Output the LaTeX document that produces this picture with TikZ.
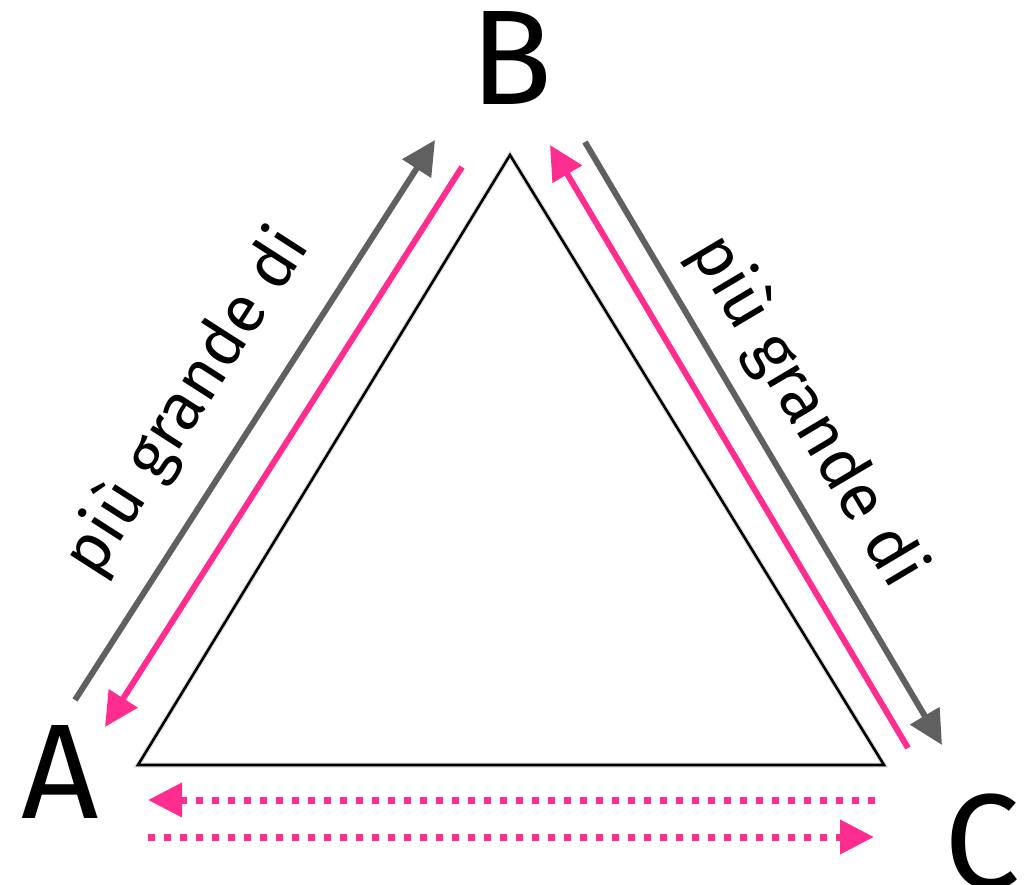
\documentclass[tikz,border=0pt]{standalone}
\usepackage{fontspec}
\setmainfont{Fira Sans}
\usetikzlibrary{arrows.meta}
\definecolor{pinkc}{HTML}{FF2D8F}
\definecolor{grayc}{HTML}{606060}
\begin{document}
\begin{tikzpicture}[x=1pt,y=-1pt,
  tip/.style={-{Triangle[length=34pt,width=33pt]}},
  garrow/.style={draw=grayc,line width=6pt,tip},
  parrow/.style={draw=pinkc,line width=6pt,tip},
  dotarrow/.style={draw=pinkc,line width=7pt,dash pattern=on 7pt off 9pt,tip},
  vlabel/.style={font=\fontsize{135}{135}\selectfont,inner sep=0pt},
  elabel/.style={font=\fontsize{66}{66}\selectfont,inner sep=0pt},
  tri/.style={draw=black,line width=2.6pt,line join=miter}]
\useasboundingbox (0,0) rectangle (1029,885);
% vertex labels
\node[vlabel] (A) at (60,772) {A};
\node[vlabel] (B) at (512,58) {B};
\node[vlabel] (C) at (982,842) {C};
% triangle
\coordinate (t1) at (510,155);
\coordinate (t2) at (138,765);
\coordinate (t3) at (884,765);
\draw[black,opacity=0.12,line width=5pt,shift={(2,3)}] (t1) -- (t2) -- (t3) -- cycle;
\draw[tri] (t1) -- (t2) -- (t3) -- cycle;
% arrow end points
\coordinate (gl0) at (75,700);   \coordinate (gl1) at (435,140);
\coordinate (pl0) at (462,167);  \coordinate (pl1) at (105,727);
\coordinate (pr0) at (908,748);  \coordinate (pr1) at (550,145);
\coordinate (gr0) at (585,142);  \coordinate (gr1) at (942,745);
\coordinate (d10) at (875,800);  \coordinate (d11) at (148,800);
\coordinate (d20) at (148,837);  \coordinate (d21) at (874,837);
% arrows
\draw[garrow] (gl0) -- (gl1);
\draw[parrow] (pl0) -- (pl1);
\draw[parrow] (pr0) -- (pr1);
\draw[garrow] (gr0) -- (gr1);
\draw[dotarrow] (d10) -- (d11);
\draw[dotarrow] (d20) -- (d21);
% edge labels
\node[elabel,rotate=57.3] (lab1) at (187,402) {più grande di};
\node[elabel,rotate=-59.3] (lab2) at (807,411) {più grande di};
\end{tikzpicture}
\end{document}
